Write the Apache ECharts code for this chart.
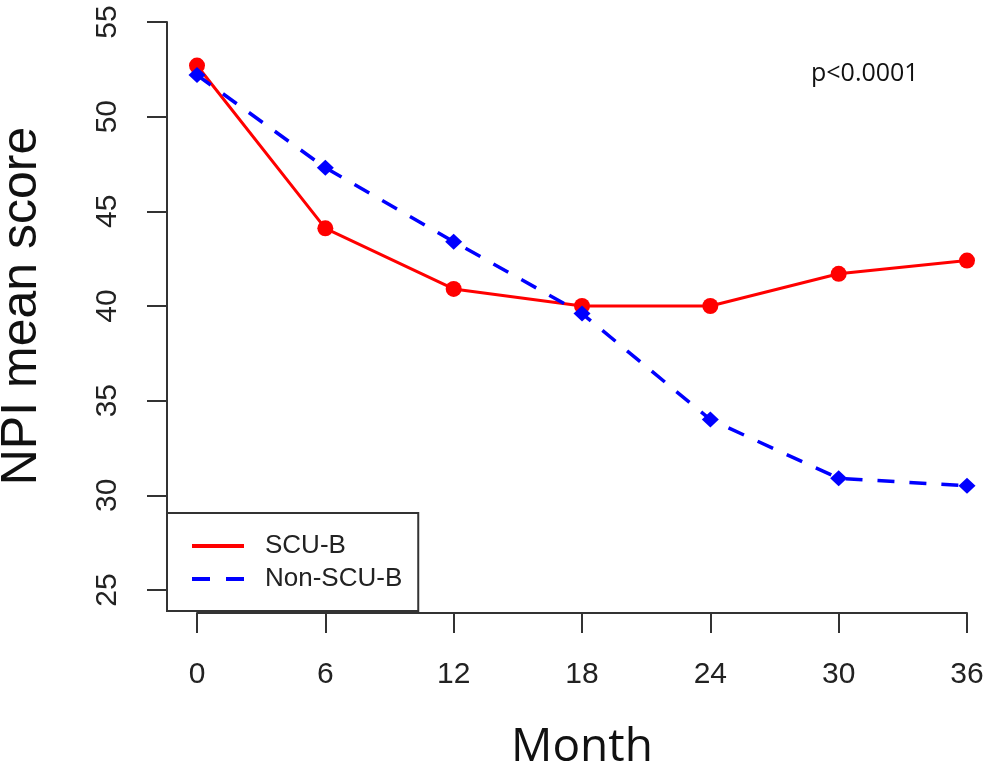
<!DOCTYPE html>
<html style="height: 100%">
<head>
    <meta charset="utf-8">
</head>
<body style="height: 100%; margin: 0; background: #fff">
<div id="npi_container" style="width: 985px; height: 773px"></div>
<script src="https://cdn.jsdelivr.net/npm/echarts@6/dist/echarts.min.js"></script>
<script type="text/javascript">

    // values
    var months = [0, 6, 12, 18, 24, 30, 36];
    var scuB = [52.7, 44.1, 40.9, 40.0, 40.0, 41.7, 42.4];
    var nonScuB = [52.2, 47.3, 43.4, 39.6, 34.0, 30.9, 30.5];
    var seriesNames = ['SCU-B', 'Non-SCU-B'];
    var pValueText = 'p<0.0001';

    function toPairs(xs, ys) {
        var out = [];
        for (var i = 0; i < xs.length; i++) {
            out.push([xs[i], ys[i]]);
        }
        return out;
    }

    var axisColor = '#333';

    var npi_option = {
        animation: false,
        backgroundColor: '#fff',
        title: {
            text: pValueText,
            left: 806,
            top: 56,
            textStyle: {
                fontFamily: 'Open Sans',
                fontWeight: 'normal',
                fontSize: 25,
                color: '#111'
            }
        },
        legend: {
            orient: 'vertical',
            left: 167,
            top: 513,
            padding: [17, 16, 16, 25],
            itemGap: 1,
            itemWidth: 52,
            itemHeight: 4,
            borderColor: axisColor,
            borderWidth: 2,
            borderRadius: 0,
            backgroundColor: '#fff',
            textStyle: {
                fontFamily: 'Liberation Sans',
                fontSize: 26,
                color: '#222',
                lineHeight: 32,
                padding: [0, 0, 0, 16]
            },
            data: [
                {name: seriesNames[0], icon: 'path://M0,0h52v4h-52z'},
                {name: seriesNames[1], icon: 'path://M0,0h18v4h-18zM34,0h18v4h-18z'}
            ]
        },
        grid: {
            left: 197,
            right: 18,
            top: 22,
            bottom: 183,
            outerBoundsMode: 'none',
            containLabel: false
        },
        xAxis: {
            type: 'value',
            min: 0,
            max: 36,
            interval: 6,
            offset: 23,
            name: 'Month',
            nameLocation: 'middle',
            nameGap: 112,
            nameTextStyle: {
                fontFamily: 'Open Sans',
                fontSize: 46,
                color: '#111'
            },
            splitLine: {show: false},
            axisLine: {show: true, onZero: false, lineStyle: {color: axisColor, width: 2}},
            axisTick: {show: true, length: 20, lineStyle: {color: axisColor, width: 2}},
            axisLabel: {
                margin: 47,
                fontFamily: 'Liberation Sans',
                fontSize: 30,
                color: '#222'
            }
        },
        yAxis: {
            type: 'value',
            min: 25,
            max: 55,
            interval: 5,
            offset: 30,
            name: 'NPI mean score',
            nameLocation: 'middle',
            nameGap: 120,
            nameTextStyle: {
                fontFamily: 'Liberation Sans',
                fontSize: 50,
                color: '#111'
            },
            splitLine: {show: false},
            axisLine: {show: true, onZero: false, lineStyle: {color: axisColor, width: 2}},
            axisTick: {show: true, length: 20, lineStyle: {color: axisColor, width: 2}},
            axisLabel: {
                rotate: 90,
                margin: 44,
                fontFamily: 'Liberation Sans',
                fontSize: 30,
                color: '#222'
            }
        },
        series: [
            {
                name: seriesNames[0],
                type: 'line',
                clip: false,
                data: toPairs(months, scuB),
                symbol: 'circle',
                symbolSize: 16,
                itemStyle: {color: '#ff0000'},
                lineStyle: {color: '#ff0000', width: 3}
            },
            {
                name: seriesNames[1],
                type: 'line',
                clip: false,
                data: toPairs(months, nonScuB),
                symbol: 'diamond',
                symbolSize: [17, 16],
                itemStyle: {color: '#0000ff'},
                lineStyle: {color: '#0000ff', width: 3.5, type: [17, 15]}
            }
        ]
    };

    var npi_chart = echarts.init(document.getElementById('npi_container'));
    npi_chart.setOption(npi_option, true);
</script>
</body>
</html>
